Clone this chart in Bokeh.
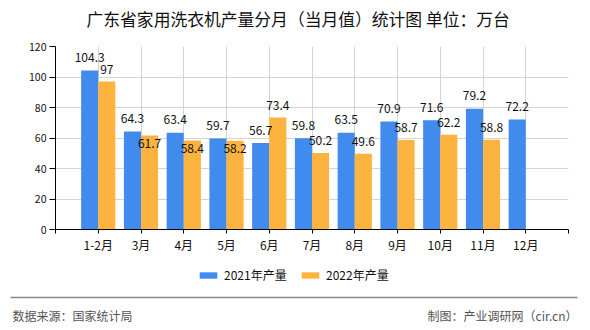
import numpy as np
from bokeh.plotting import figure
from bokeh.layouts import column
from bokeh.models import (ColumnDataSource, Range1d, FixedTicker, Legend, LegendItem, LabelSet)
from bokeh.core.properties import value
from bokeh.embed import file_html
from bokeh.resources import INLINE

# ---- data ----
months = ["1-2月", "3月", "4月", "5月", "6月", "7月", "8月", "9月", "10月", "11月", "12月"]
prod_2021 = [104.3, 64.3, 63.4, 59.7, 56.7, 59.8, 63.5, 70.9, 71.6, 79.2, 72.2]
prod_2022 = [97, 61.7, 58.4, 58.2, 73.4, 50.2, 49.6, 58.7, 62.2, 58.8, None]
series_names = ["2021年产量", "2022年产量"]
y_ticks = [0, 20, 40, 60, 80, 100, 120]

title_text = "广东省家用洗衣机产量分月（当月值）统计图 单位：万台"
source_text = "数据来源：国家统计局"
credit_text = "制图：产业调研网（cir.cn）"

BLUE = "#418AEE"
ORANGE = "#FCB340"
FONT = "Noto Sans CJK SC"

# geometry (canvas px)
W = 590
HEAD_H = 36
MAIN_H = 219
FOOT_H = 75
FL, FR = 55, 568
FT, FB = 46 - HEAD_H, 229 - HEAD_H   # frame top / bottom inside the main figure


def blank(height):
    fig = figure(width=W, height=height, output_backend="svg", toolbar_location=None,
                 x_range=Range1d(0, W), y_range=Range1d(height, 0),
                 x_axis_type=None, y_axis_type=None, min_border=0)
    fig.frame_align = False
    fig.outline_line_color = None
    fig.grid.visible = False
    fig.border_fill_color = "white"
    return fig


# ---- header: title ----
h = blank(HEAD_H)
h.text(x=[86], y=[18], text=[title_text], text_align="left", text_baseline="middle",
       text_font=value(FONT), text_font_size="16.8px", text_color="#111111")

# ---- main chart ----
pos = list(range(1, len(months) + 1))
x21 = [p - 0.2 for p in pos]
idx22 = [i for i, v in enumerate(prod_2022) if v is not None]
x22 = [pos[i] + 0.2 for i in idx22]
v22 = [prod_2022[i] for i in idx22]


def fmt(v):
    return f"{v:g}"


# 2022 labels go inside the bar when they would collide with the 2021 label
off22 = [(-8 if abs(prod_2021[i] - prod_2022[i]) < 7 else 12) for i in idx22]

src21 = ColumnDataSource(dict(x=x21, top=prod_2021, lab=[fmt(v) for v in prod_2021]))
src22 = ColumnDataSource(dict(x=x22, top=v22, lab=[fmt(v) for v in v22], off=off22))

p = figure(width=W, height=MAIN_H, output_backend="svg", toolbar_location=None,
           x_range=Range1d(0, len(months) + 1), y_range=Range1d(0, 120),
           min_border_left=FL, min_border_right=W - FR,
           min_border_top=FT, min_border_bottom=MAIN_H - FB)
p.frame_align = False
p.outline_line_color = None
p.border_fill_color = "white"

r21 = p.vbar(x="x", top="top", width=0.4, bottom=0, source=src21,
             fill_color=BLUE, line_color=None)
r22 = p.vbar(x="x", top="top", width=0.4, bottom=0, source=src22,
             fill_color=ORANGE, line_color=None)

p.add_layout(LabelSet(x="x", y="top", text="lab", source=src21, text_align="center",
                      text_baseline="middle", y_offset=13, text_font=value(FONT),
                      text_font_size="12px", text_color="#111111"))
p.add_layout(LabelSet(x="x", y="top", text="lab", source=src22, text_align="center",
                      text_baseline="middle", y_offset="off", text_font=value(FONT),
                      text_font_size="12px", text_color="#111111"))

# axes
xt = list(range(0, len(months) + 2))
p.xaxis.ticker = FixedTicker(ticks=xt)
overrides = {0: "", len(months) + 1: ""}
for i, m in enumerate(months):
    overrides[i + 1] = m
p.xaxis.major_label_overrides = overrides
p.xaxis.axis_line_color = "black"
p.xaxis.major_tick_line_color = "black"
p.xaxis.major_tick_out = 4
p.xaxis.major_tick_in = 0
p.xaxis.minor_tick_line_color = None
p.xaxis.major_label_standoff = 2
p.xaxis.major_label_text_font = FONT
p.xaxis.major_label_text_font_size = "12px"
p.xaxis.major_label_text_color = "#111111"

p.yaxis.ticker = FixedTicker(ticks=y_ticks)
p.yaxis.axis_line_color = "black"
p.yaxis.major_tick_line_color = "black"
p.yaxis.major_tick_out = 6
p.yaxis.major_tick_in = 0
p.yaxis.minor_tick_line_color = None
p.yaxis.major_label_standoff = 3
p.yaxis.major_label_text_font = FONT
p.yaxis.major_label_text_font_size = "10.5px"
p.yaxis.major_label_text_color = "#111111"

p.xgrid.ticker = FixedTicker(ticks=xt)
p.xgrid.grid_line_color = "#D3D3D3"
p.ygrid.grid_line_color = "#D3D3D3"

# ---- footer: legend, rule, source texts (pixel coordinates, y downward) ----
f = blank(FOOT_H)
# legend proxies: one NaN point each, so nothing is drawn but the legend swatch
k21 = f.vbar(x=np.array([np.nan]), top=np.array([np.nan]), width=1,
             fill_color=BLUE, line_color=None)
k22 = f.vbar(x=np.array([np.nan]), top=np.array([np.nan]), width=1,
             fill_color=ORANGE, line_color=None)
for name, rend, lx in [(series_names[0], k21, 197), (series_names[1], k22, 299)]:
    lg = Legend(items=[LegendItem(label=name, renderers=[rend])],
                location=(lx, FOOT_H - 28), orientation="horizontal",
                glyph_width=22, glyph_height=8, label_height=12, label_standoff=5,
                padding=0, margin=0, spacing=0, border_line_color=None,
                background_fill_alpha=0, label_text_font=FONT,
                label_text_font_size="12px", label_text_color="#111111",
                label_text_baseline="middle")
    f.add_layout(lg, "center")

f.segment(x0=[10], y0=[42], x1=[577], y1=[42], line_color="#888888", line_width=1.5)
f.text(x=[12], y=[60], text=[source_text], text_align="left", text_baseline="middle",
       text_font=value(FONT), text_font_size="12px", text_color="#555555")
f.text(x=[577], y=[60], text=[credit_text], text_align="right", text_baseline="middle",
       text_font=value(FONT), text_font_size="12px", text_color="#555555")

layout = column(h, p, f, spacing=0)
open("out.html", "w").write(file_html(layout, INLINE))
